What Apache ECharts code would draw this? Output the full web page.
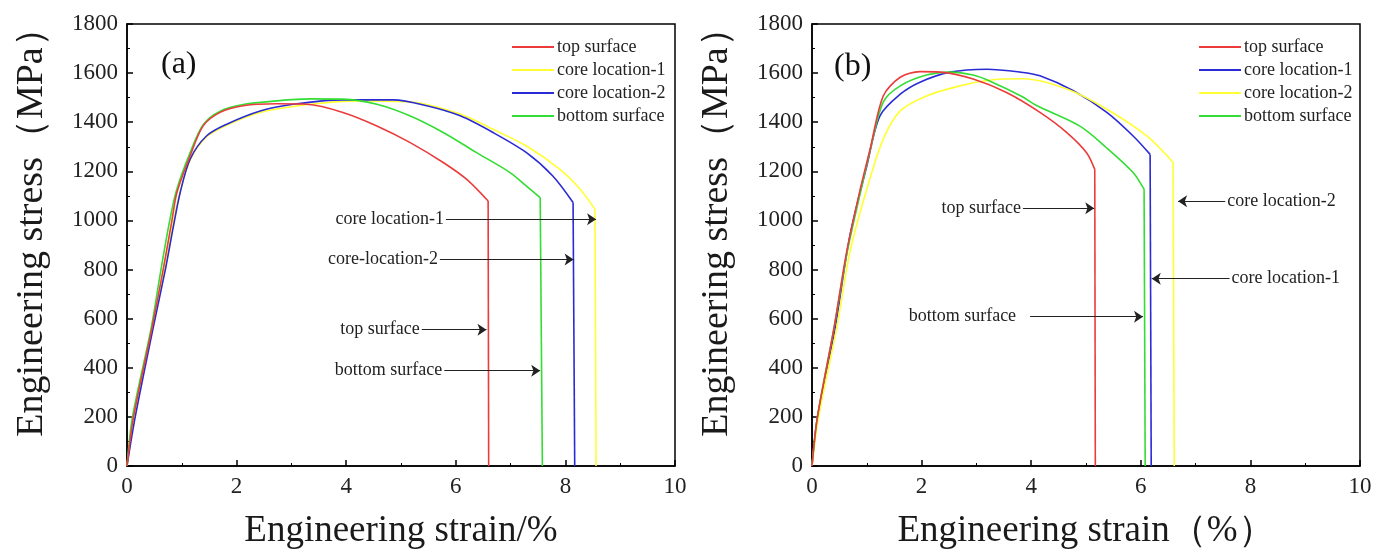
<!DOCTYPE html>
<html>
<head>
<meta charset="utf-8">
<script src="https://cdn.jsdelivr.net/npm/echarts@6/dist/echarts.min.js"></script>
<style>
  html, body { margin: 0; padding: 0; background: #fff; }
  #chart { width: 1386px; height: 556px; }
</style>
</head>
<body>
<div id="chart"></div>
<script>
// 曲线名称
const seriesNames = ['top surface', 'core location-1', 'core location-2', 'bottom surface'];

// (a) 应变 / 应力 数据 [strain %, stress MPa]，最后一点为断裂后的竖直下降
const aTop = [[0,0],[0.12,200],[0.45,555],[0.66,800],[0.82,1000],[0.91,1113],[1.15,1262],[1.39,1385],[1.70,1440],[2.12,1467],[2.73,1475],[3.28,1473],[3.94,1440],[4.56,1385],[5.16,1318],[5.77,1236],[6.2,1167],[6.59,1079],[6.6,0]];
const aCore1 = [[0,0],[0.13,200],[0.46,555],[0.68,800],[0.84,990],[0.96,1110],[1.15,1245],[1.45,1340],[1.82,1388],[2.43,1440],[3.34,1473],[4.25,1487],[5.16,1483],[6.08,1433],[6.68,1371],[7.29,1303],[7.9,1208],[8.27,1127],[8.54,1045],[8.56,0]];
const aCore2 = [[0,0],[0.15,200],[0.47,555],[0.7,800],[0.85,980],[0.97,1113],[1.15,1249],[1.45,1344],[1.82,1392],[2.43,1446],[3.03,1473],[3.94,1491],[4.86,1491],[5.47,1467],[6.08,1426],[6.68,1358],[7.29,1276],[7.77,1181],[8.14,1073],[8.17,0]];
const aBottom = [[0,0],[0.1,200],[0.44,560],[0.62,800],[0.78,1000],[0.9,1120],[1.15,1275],[1.39,1390],[1.70,1445],[2.12,1472],[2.73,1487],[3.34,1495],[3.94,1494],[4.56,1473],[5.16,1426],[5.77,1358],[6.38,1276],[6.99,1195],[7.29,1140],[7.54,1093],[7.58,0]];

// (b) 应变 / 应力 数据
const bTop = [[0,0],[0.1,200],[0.4,560],[0.63,869],[0.88,1127],[1.06,1290],[1.30,1507],[1.61,1583],[1.97,1606],[2.34,1604],[2.94,1576],[3.55,1521],[4.16,1440],[4.65,1358],[5.01,1276],[5.16,1208],[5.17,0]];
const bCore1 = [[0,0],[0.1,200],[0.42,560],[0.69,936],[1.0,1222],[1.24,1426],[1.61,1514],[1.97,1563],[2.52,1604],[3.19,1616],[3.8,1604],[4.16,1589],[4.77,1528],[5.38,1440],[5.86,1344],[6.17,1269],[6.19,0]];
const bCore2 = [[0,0],[0.12,200],[0.45,560],[0.69,869],[1.0,1127],[1.30,1331],[1.61,1446],[2.09,1507],[2.70,1548],[3.30,1573],[3.86,1577],[4.65,1535],[5.38,1453],[6.11,1344],[6.59,1236],[6.61,0]];
const bBottom = [[0,0],[0.1,200],[0.4,560],[0.64,869],[0.9,1130],[1.06,1285],[1.30,1482],[1.61,1548],[2.09,1592],[2.52,1604],[2.94,1592],[3.27,1565],[3.83,1505],[4.08,1470],[4.89,1384],[5.38,1295],[5.86,1195],[6.06,1127],[6.08,0]];

// 颜色 (两图中 core location-1/2 颜色互换)
const colorsA = ['#ec3b3b', '#ffff33', '#2b2bd6', '#33dd33'];
const colorsB = ['#ec3b3b', '#2b2bd6', '#ffff33', '#33dd33'];

// 箭头标注: 文字, 起点应变, 终点应变, 应力
const notesA = [
  { text: 'core location-1', from: 5.82, to: 8.56, y: 1005 },
  { text: 'core-location-2', from: 5.71, to: 8.15, y: 841 },
  { text: 'top surface', from: 5.38, to: 6.56, y: 555 },
  { text: 'bottom surface', from: 5.79, to: 7.54, y: 388 }
];
const notesB = [
  { text: 'top surface', from: 3.85, to: 5.15, y: 1050 },
  { text: 'core location-2', from: 7.54, to: 6.68, y: 1078 },
  { text: 'core location-1', from: 7.62, to: 6.2, y: 763 },
  { text: 'bottom surface', from: 3.98, to: 6.04, y: 608, gap: 14 }
];

const FONT = 'Liberation Serif';

function makeXAxis(idx, name) {
  return {
    type: 'value', gridIndex: idx, min: 0, max: 10, interval: 2,
    name: name, nameLocation: 'middle', nameGap: 47,
    nameTextStyle: { fontFamily: FONT, fontSize: 37, color: '#1a1a1a' },
    axisLine: { show: true, lineStyle: { color: '#000', width: 1.5 } },
    axisTick: { show: true, inside: true, length: 6, lineStyle: { color: '#000', width: 1.5 } },
    minorTick: { show: true, splitNumber: 2, length: 3, lineStyle: { color: '#000', width: 1 } },
    axisLabel: { fontFamily: FONT, fontSize: 23, color: '#222', margin: 9 },
    splitLine: { show: false }
  };
}

function makeYAxis(idx) {
  return {
    type: 'value', gridIndex: idx, min: 0, max: 1800, interval: 200,
    name: 'Engineering stress（MPa）', nameLocation: 'middle', nameGap: 76,
    nameTextStyle: { fontFamily: FONT, fontSize: 38, color: '#1a1a1a', padding: [0, 0, 0, 44] },
    axisLine: { show: true, lineStyle: { color: '#000', width: 1.5 } },
    axisTick: { show: true, inside: true, length: 6, lineStyle: { color: '#000', width: 1.5 } },
    minorTick: { show: true, splitNumber: 2, length: 3, lineStyle: { color: '#000', width: 1 } },
    axisLabel: { fontFamily: FONT, fontSize: 23, color: '#222', margin: 9, formatter: v => String(v) },
    splitLine: { show: false }
  };
}

// 每条曲线: 平滑的加载段 + 直线的断裂下降段
function makeCurves(idx, datasets, colors) {
  const out = [];
  datasets.forEach((d, i) => {
    const common = {
      name: seriesNames[i], type: 'line', xAxisIndex: idx, yAxisIndex: idx,
      showSymbol: false, lineStyle: { color: colors[i], width: 1.6 }, itemStyle: { color: colors[i] },
      z: 3 + (i === 0 ? 1 : 0)
    };
    out.push(Object.assign({}, common, { data: d.slice(0, -1), smooth: 0.3 }));
    out.push(Object.assign({}, common, { data: d.slice(-2), smooth: false }));
  });
  return out;
}

function makeNotes(idx, notes) {
  return {
    name: 'notes' + idx, type: 'line', xAxisIndex: idx, yAxisIndex: idx, data: [],
    markLine: {
      silent: true, symbol: ['none', 'arrow'], symbolSize: 9,
      lineStyle: { color: '#222', width: 1, type: 'solid' },
      label: { show: true, position: 'start', formatter: '{b}', fontFamily: FONT, fontSize: 18, color: '#222' },
      data: notes.map(n => [
        { coord: [n.from, n.y], name: n.text, label: { distance: n.gap || 2 } },
        { coord: [n.to, n.y] }
      ])
    }
  };
}

function makeLegend(left, colors) {
  return {
    left: left, top: 33, orient: 'vertical', itemWidth: 42, itemHeight: 2, itemGap: 5,
    icon: 'rect', selectedMode: false,
    textStyle: { fontFamily: FONT, fontSize: 18, color: '#222', padding: [0, 0, 0, -2] },
    data: seriesNames.map((n, i) => ({ name: n, itemStyle: { color: colors[i] } }))
  };
}

const chart = echarts.init(document.getElementById('chart'));
chart.setOption({
  animation: false,
  backgroundColor: '#fff',
  title: [
    { text: '(a)', left: 156, top: 44, textStyle: { fontFamily: FONT, fontSize: 32, fontWeight: 'normal', color: '#111' } },
    { text: '(b)', left: 829, top: 46, textStyle: { fontFamily: FONT, fontSize: 32, fontWeight: 'normal', color: '#111' } }
  ],
  legend: [makeLegend(507, colorsA), makeLegend(1194, colorsB)],
  grid: [
    { left: 127, top: 24, width: 548, height: 442, show: true, borderColor: '#000', borderWidth: 1.5 },
    { left: 812, top: 24, width: 548, height: 442, show: true, borderColor: '#000', borderWidth: 1.5 }
  ],
  xAxis: [makeXAxis(0, 'Engineering strain/%'), makeXAxis(1, 'Engineering strain（%）')],
  yAxis: [makeYAxis(0), makeYAxis(1)],
  series: [
    ...makeCurves(0, [aTop, aCore1, aCore2, aBottom], colorsA),
    ...makeCurves(1, [bTop, bCore1, bCore2, bBottom], colorsB),
    makeNotes(0, notesA),
    makeNotes(1, notesB)
  ]
});
</script>
</body>
</html>
